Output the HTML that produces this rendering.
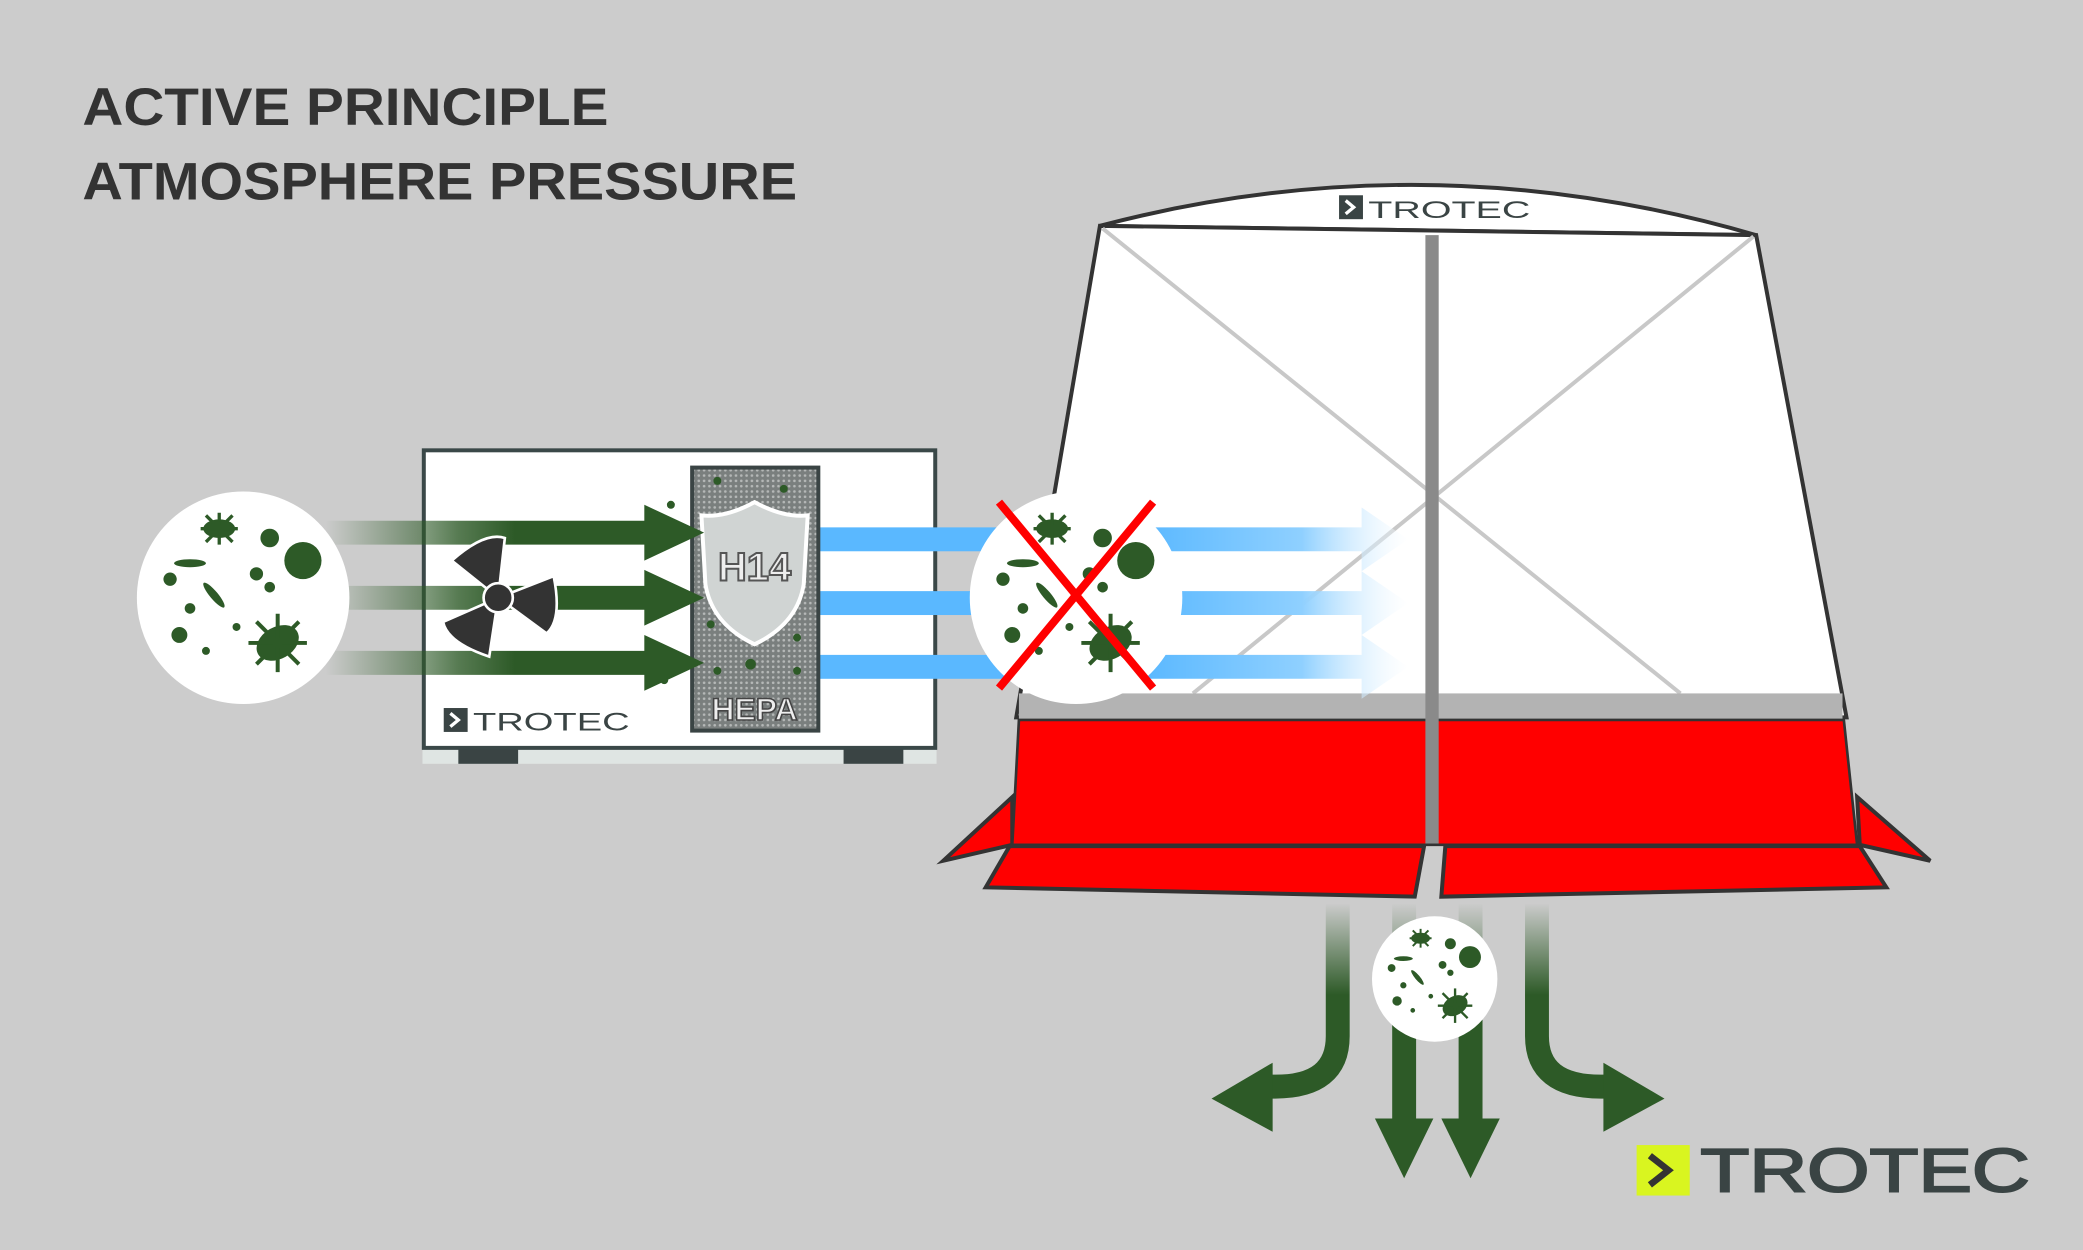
<!DOCTYPE html>
<html><head><meta charset="utf-8"><style>
html,body{margin:0;padding:0;background:#cccccc;}
svg{display:block;}
</style></head><body>
<svg width="2083" height="1250" viewBox="0 0 1568 941" xmlns="http://www.w3.org/2000/svg">
<defs>
<linearGradient id="gfade" x1="0" x2="1" y1="0" y2="0">
<stop offset="0" stop-color="#2d5a27" stop-opacity="0"/>
<stop offset="0.35" stop-color="#2d5a27" stop-opacity="0.8"/>
<stop offset="0.5" stop-color="#2d5a27"/>
<stop offset="1" stop-color="#2d5a27"/>
</linearGradient>
<linearGradient id="bfade" x1="0" x2="1">
<stop offset="0" stop-color="#5ab8ff"/>
<stop offset="0.6" stop-color="#8fd0ff"/>
<stop offset="1" stop-color="#ffffff" stop-opacity="0.3"/>
</linearGradient>
<linearGradient id="vfade" x1="0" x2="0" y1="0" y2="1">
<stop offset="0" stop-color="#2d5a27" stop-opacity="0"/>
<stop offset="0.5" stop-color="#2d5a27"/>
<stop offset="1" stop-color="#2d5a27"/>
</linearGradient>
<pattern id="dots" width="4" height="4" patternUnits="userSpaceOnUse">
<rect width="4" height="4" fill="#7a7f7e"/><circle cx="2" cy="2" r="1" fill="#b5b8b7"/>
</pattern>
<g id="germs">
<circle cx="0" cy="0" r="80" fill="#fff"/>
<circle cx="20" cy="-45" r="7" fill="#2d5a27"/>
<circle cx="45" cy="-28" r="14" fill="#2d5a27"/>
<circle cx="10" cy="-18" r="5" fill="#2d5a27"/>
<circle cx="20" cy="-8" r="4" fill="#2d5a27"/>
<ellipse cx="-40" cy="-26" rx="12" ry="3" fill="#2d5a27"/>
<circle cx="-55" cy="-14" r="5" fill="#2d5a27"/>
<ellipse cx="-22" cy="-2" rx="12" ry="3" transform="rotate(50 -22 -2)" fill="#2d5a27"/>
<circle cx="-40" cy="8" r="4" fill="#2d5a27"/>
<circle cx="-48" cy="28" r="6" fill="#2d5a27"/>
<circle cx="-28" cy="40" r="3" fill="#2d5a27"/>
<circle cx="-5" cy="22" r="3" fill="#2d5a27"/>
<ellipse cx="-18" cy="-52" rx="12" ry="7" fill="#2d5a27"/>
<g stroke="#2d5a27" stroke-width="2.5"><line x1="-32" y1="-52" x2="-4" y2="-52"/><line x1="-18" y1="-64" x2="-18" y2="-40"/><line x1="-28" y1="-62" x2="-8" y2="-42"/><line x1="-8" y1="-62" x2="-28" y2="-42"/></g>
<ellipse cx="26" cy="34" rx="17" ry="12" transform="rotate(-30 26 34)" fill="#2d5a27"/>
<g stroke="#2d5a27" stroke-width="3"><line x1="4" y1="34" x2="48" y2="34"/><line x1="26" y1="12" x2="26" y2="56"/><line x1="10" y1="18" x2="42" y2="50"/><line x1="42" y1="18" x2="10" y2="50"/></g>
</g>
</defs>
<rect width="1568" height="941" fill="#cccccc"/>
<text x="62" y="94" font-family="Liberation Sans, sans-serif" font-weight="bold" font-size="40" fill="#333" textLength="396" lengthAdjust="spacingAndGlyphs">ACTIVE PRINCIPLE</text>
<text x="62" y="150" font-family="Liberation Sans, sans-serif" font-weight="bold" font-size="40" fill="#333" textLength="538" lengthAdjust="spacingAndGlyphs">ATMOSPHERE PRESSURE</text>

<!-- bottom green arrows -->
<path d="M1007 680 L1007 780 Q1007 818 960 818 L950 818" fill="none" stroke="url(#vfade)" stroke-width="18"/>
<polygon points="912,827 958,800 958,852" fill="#2d5a27"/>
<path d="M1157 680 L1157 780 Q1157 818 1205 818 L1215 818" fill="none" stroke="url(#vfade)" stroke-width="18"/>
<polygon points="1253,827 1207,800 1207,852" fill="#2d5a27"/>
<rect x="1048" y="680" width="18" height="165" fill="url(#vfade)"/>
<polygon points="1035,842 1079,842 1057,887" fill="#2d5a27"/>
<rect x="1098" y="680" width="18" height="165" fill="url(#vfade)"/>
<polygon points="1085,842 1129,842 1107,887" fill="#2d5a27"/>
<g transform="translate(1080,737) scale(0.59)"><use href="#germs"/></g>

<!-- tent -->
<path d="M828 170 Q1075 105 1322 177 Z" fill="#fff" stroke="#333" stroke-width="3"/>
<polygon points="828,170 1322,177 1390,540 765,540" fill="#fff" stroke="#333" stroke-width="3"/>
<line x1="830" y1="172" x2="1265" y2="522" stroke="#c8c8c8" stroke-width="3"/>
<line x1="1320" y1="178" x2="898" y2="522" stroke="#c8c8c8" stroke-width="3"/>
<rect x="767" y="522" width="620" height="20" fill="#b3b3b3"/>
<polygon points="710,648 762,600 762,636" fill="#f00" stroke="#333" stroke-width="3"/>
<polygon points="1398,600 1453,648 1400,636" fill="#f00" stroke="#333" stroke-width="3"/>
<polygon points="767,542 1388,542 1398,636 762,636" fill="#f00" stroke="#333" stroke-width="2"/>
<polygon points="742,668 760,637 1072,637 1065,675" fill="#f00" stroke="#333" stroke-width="3"/>
<polygon points="1088,637 1400,637 1420,668 1085,675" fill="#f00" stroke="#333" stroke-width="3"/>
<rect x="1073" y="177" width="10" height="458" fill="#8a8a8a"/>
<rect x="1008" y="147" width="18" height="18" fill="#3a4444"/>
<path d="M1013 151 L1019 156 L1013 161" fill="none" stroke="#fff" stroke-width="2.5"/>
<text x="1030" y="164" font-family="Liberation Sans, sans-serif" font-size="18" fill="#3a4444" textLength="122" lengthAdjust="spacingAndGlyphs">TROTEC</text>

<!-- machine -->
<rect x="318" y="563" width="387" height="12" fill="#dfe5e3"/>
<rect x="345" y="563" width="45" height="12" fill="#3a4444"/>
<rect x="635" y="563" width="45" height="12" fill="#3a4444"/>
<rect x="319" y="339" width="385" height="224" fill="#fff" stroke="#3a4848" stroke-width="3"/>

<!-- blue arrows -->
<rect x="616" y="397" width="150" height="18" fill="#5ab8ff"/>
<rect x="616" y="445" width="150" height="18" fill="#5ab8ff"/>
<rect x="616" y="493" width="150" height="18" fill="#5ab8ff"/>
<g fill="url(#bfade)">
<polygon points="860,397 1025,397 1025,382 1060,406 1025,430 1025,415 860,415"/>
<polygon points="860,445 1025,445 1025,430 1060,454 1025,478 1025,463 860,463"/>
<polygon points="860,493 1025,493 1025,478 1060,502 1025,526 1025,511 860,511"/>
</g>

<rect x="521" y="352" width="95" height="198" fill="url(#dots)" stroke="#3a4444" stroke-width="3"/>
<g fill="#2d5a27"><circle cx="540" cy="362" r="3"/><circle cx="590" cy="368" r="3"/><circle cx="605" cy="390" r="3"/><circle cx="535" cy="470" r="3"/><circle cx="600" cy="480" r="3"/><circle cx="565" cy="500" r="4"/><circle cx="540" cy="505" r="3"/><circle cx="505" cy="380" r="3"/><circle cx="500" cy="512" r="3"/><circle cx="600" cy="505" r="3"/></g>
<path d="M568 378 Q590 390 608 388 L605 440 Q600 470 568 485 Q536 470 531 440 L528 388 Q546 390 568 378 Z" fill="#d0d4d3" stroke="#fff" stroke-width="3"/>
<text x="568" y="437" text-anchor="middle" font-family="Liberation Sans, sans-serif" font-weight="bold" font-size="30" fill="#eee" stroke="#555" stroke-width="1.5">H14</text>
<text x="568" y="542" text-anchor="middle" font-family="Liberation Sans, sans-serif" font-weight="bold" font-size="24" fill="#eee" stroke="#444" stroke-width="1.2">HEPA</text>
<g fill="url(#gfade)">
<polygon points="245,392 485,392 485,380 530,401 485,422 485,410 245,410"/>
<polygon points="245,441 485,441 485,429 530,450 485,471 485,459 245,459"/>
<polygon points="245,490 485,490 485,478 530,499 485,520 485,508 245,508"/>
</g>
<g transform="translate(375,450)" fill="#333" stroke="#fff" stroke-width="2">
<path d="M0 0 L-35 -28 Q-10 -50 5 -45 Z" transform="rotate(0)"/>
<path d="M0 0 L-35 -28 Q-10 -50 5 -45 Z" transform="rotate(120)"/>
<path d="M0 0 L-35 -28 Q-10 -50 5 -45 Z" transform="rotate(240)"/>
<circle r="11" fill="#333"/>
</g>
<rect x="334" y="533" width="18" height="18" fill="#3a4444"/>
<path d="M339 537 L345 542 L339 547" fill="none" stroke="#fff" stroke-width="2.5"/>
<text x="356" y="550" font-family="Liberation Sans, sans-serif" font-size="19" fill="#3a4444" textLength="118" lengthAdjust="spacingAndGlyphs">TROTEC</text>

<!-- circles -->
<g transform="translate(183,450)"><use href="#germs"/></g>
<g transform="translate(810,450)"><use href="#germs"/></g>
<line x1="752" y1="378" x2="868" y2="518" stroke="#f00" stroke-width="6"/>
<line x1="868" y1="378" x2="752" y2="518" stroke="#f00" stroke-width="6"/>

<!-- logo -->
<rect x="1232" y="862" width="40" height="38" fill="#d9f520"/>
<path d="M1242 870 L1256 881 L1242 892" fill="none" stroke="#333" stroke-width="5"/>
<text x="1280" y="897" font-family="Liberation Sans, sans-serif" font-size="46" fill="#3a4444" textLength="248" lengthAdjust="spacingAndGlyphs" stroke="#3a4444" stroke-width="1.5">TROTEC</text>
</svg>
</body></html>
